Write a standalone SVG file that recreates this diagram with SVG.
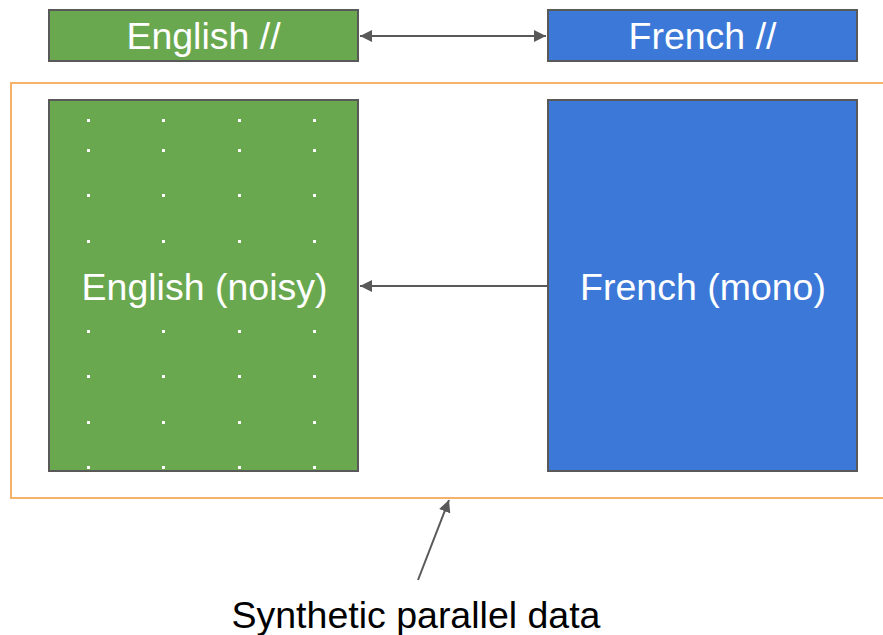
<svg xmlns="http://www.w3.org/2000/svg" width="883" height="635" viewBox="0 0 883 635">
<defs>
<style>
.box{stroke:#595959;stroke-width:2}
.en{fill:#6aa84f}
.fr{fill:#3c78d8}
.lbl{font-family:"Liberation Sans",Arial,sans-serif;font-size:37.5px;fill:#ffffff;text-anchor:middle}
.cap{font-family:"Liberation Sans",Arial,sans-serif;font-size:37.5px;fill:#000000;text-anchor:middle}
.conn{stroke:#595959;stroke-width:2;fill:none}
.dot{fill:#ffffff}
</style>
<marker id="ah" viewBox="0 0 10 10" refX="10" refY="5" markerWidth="6" markerHeight="6" markerUnits="strokeWidth" orient="auto-start-reverse">
<path d="M0,0 L10,5 L0,10 z" fill="#595959"/>
</marker>
</defs>
<rect width="883" height="635" fill="#ffffff"/>
<g id="synthetic-group">
<rect x="11" y="83" width="890" height="415" fill="none" stroke="#f6b26b" stroke-width="2"/>
</g>
<g id="english-parallel">
<rect class="box en" x="49" y="10" width="309" height="51"/>
<text class="lbl" x="203.5" y="49">English //</text>
</g>
<g id="french-parallel">
<rect class="box fr" x="548" y="10" width="309" height="51"/>
<text class="lbl" x="702.5" y="49">French //</text>
</g>
<g id="english-noisy">
<rect class="box en" x="49" y="100" width="309" height="371"/>
<g class="dot">
<rect x="87" y="119" width="3" height="3"/><rect x="162" y="119" width="3" height="3"/><rect x="238" y="119" width="3" height="3"/><rect x="313" y="119" width="3" height="3"/>
<rect x="87" y="149" width="3" height="3"/><rect x="162" y="149" width="3" height="3"/><rect x="238" y="149" width="3" height="3"/><rect x="313" y="149" width="3" height="3"/>
<rect x="87" y="194" width="3" height="3"/><rect x="162" y="194" width="3" height="3"/><rect x="238" y="194" width="3" height="3"/><rect x="313" y="194" width="3" height="3"/>
<rect x="87" y="240" width="3" height="3"/><rect x="162" y="240" width="3" height="3"/><rect x="238" y="240" width="3" height="3"/><rect x="313" y="240" width="3" height="3"/>
<rect x="87" y="330" width="3" height="3"/><rect x="162" y="330" width="3" height="3"/><rect x="238" y="330" width="3" height="3"/><rect x="313" y="330" width="3" height="3"/>
<rect x="87" y="375" width="3" height="3"/><rect x="162" y="375" width="3" height="3"/><rect x="238" y="375" width="3" height="3"/><rect x="313" y="375" width="3" height="3"/>
<rect x="87" y="421" width="3" height="3"/><rect x="162" y="421" width="3" height="3"/><rect x="238" y="421" width="3" height="3"/><rect x="313" y="421" width="3" height="3"/>
<rect x="87" y="466" width="3" height="3"/><rect x="162" y="466" width="3" height="3"/><rect x="238" y="466" width="3" height="3"/><rect x="313" y="466" width="3" height="3"/>
</g>
<text class="lbl" x="204.5" y="300">English (noisy)</text>
</g>
<g id="french-mono">
<rect class="box fr" x="548" y="100" width="309" height="371"/>
<text class="lbl" x="703" y="300">French (mono)</text>
</g>
<g id="caption">
<text class="cap" x="416" y="628">Synthetic parallel data</text>
</g>
<g id="connectors">
<line class="conn" x1="360" y1="36" x2="546" y2="36" marker-start="url(#ah)" marker-end="url(#ah)"/>
<line class="conn" x1="547" y1="286" x2="360" y2="286" marker-end="url(#ah)"/>
<line class="conn" x1="418" y1="580" x2="449" y2="500" marker-end="url(#ah)"/>
</g>
</svg>
